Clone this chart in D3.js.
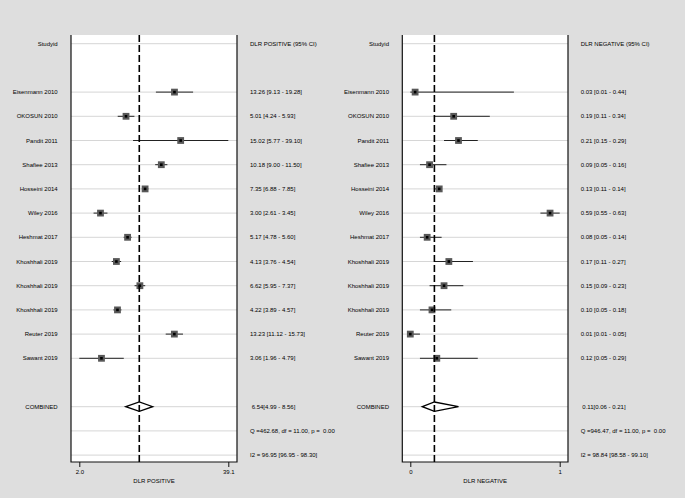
<!DOCTYPE html>
<html><head><meta charset="utf-8">
<script src="https://cdn.jsdelivr.net/npm/d3@7"></script>
<style>
html,body{margin:0;padding:0;background:#dedede;}
text{font-family:"Liberation Sans",Arial,sans-serif;font-size:6px;fill:#000;white-space:pre;}
</style></head><body>
<svg id="c" width="685" height="498"></svg>
<script>
const studies = ["Eisenmann 2010","OKOSUN 2010","Pandit 2011","Shafiee 2013","Hosseini 2014","Wiley 2016","Heshmat 2017","Khoshhali 2019","Khoshhali 2019","Khoshhali 2019","Reuter 2019","Sawant 2019"];
const posEst = [13.26,5.01,15.02,10.18,7.35,3.00,5.17,4.13,6.62,4.22,13.23,3.06];
const posLo  = [9.13,4.24,5.77,9.00,6.88,2.61,4.78,3.76,5.95,3.89,11.12,1.96];
const posHi  = [19.28,5.93,39.10,11.50,7.85,3.45,5.60,4.54,7.37,4.57,15.73,4.79];
const posCombined = [6.54,4.99,8.56];
const posQ = "Q =462.68, df = 11.00, p =  0.00";
const posI2 = "I2 = 96.95 [96.95 - 98.30]";
const posTicks = [1.96,39.10];
const posTickLabels = ["2.0","39.1"];

const negEst = [0.03,0.19,0.21,0.09,0.13,0.59,0.08,0.17,0.15,0.10,0.01,0.12];
const negLo  = [0.01,0.11,0.15,0.05,0.11,0.55,0.05,0.11,0.09,0.05,0.01,0.05];
const negHi  = [0.44,0.34,0.29,0.16,0.14,0.63,0.14,0.27,0.23,0.18,0.05,0.29];
const negCombined = [0.11,0.06,0.21];
const negQ = "Q =946.47, df = 11.00, p =  0.00";
const negI2 = "I2 = 98.84 [98.58 - 99.10]";
const negTicks = [0.01,0.63];
const negTickLabels = ["0","1"];

const svg = d3.select("#c");
const y = d3.scalePoint().domain(d3.range(18)).range([43.7,455.1]);
const boxTop = 35, boxBot = 462;

function panel(o){
  const g = svg.append("g");
  const x = o.log ? d3.scaleLog().domain(o.ticks).range(o.range)
                  : d3.scaleLinear().domain(o.ticks).range(o.range);
  g.append("rect").attr("x",o.box[0]).attr("y",boxTop).attr("width",o.box[1]-o.box[0]).attr("height",boxBot-boxTop).attr("fill","#fff");
  const gridRows = [0].concat(d3.range(2,14)).concat([15,16,17]);
  g.selectAll(".grid").data(gridRows).join("line")
    .attr("x1",o.box[0]).attr("x2",o.box[1]).attr("y1",d=>y(d)).attr("y2",d=>y(d))
    .attr("stroke","#d6d6d6").attr("stroke-width",1);
  g.append("path").attr("d",`M${o.box[0]},${boxTop}V${boxBot}H${o.box[1]}V${boxTop}`)
    .attr("fill","none").attr("stroke","#111").attr("stroke-width",1.2);
  const rows = studies.map((s,i)=>({s,i,e:o.est[i],lo:o.lo[i],hi:o.hi[i]}));
  g.selectAll(".ci").data(rows).join("line")
    .attr("x1",d=>x(d.lo)).attr("x2",d=>x(d.hi)).attr("y1",d=>y(d.i+2)).attr("y2",d=>y(d.i+2))
    .attr("stroke","#222").attr("stroke-width",1);
  g.selectAll(".sq").data(rows).join("rect")
    .attr("x",d=>x(d.e)-3.4).attr("y",d=>y(d.i+2)-3.4).attr("width",6.8).attr("height",6.8)
    .attr("fill","#585858");
  g.selectAll(".dot").data(rows).join("rect")
    .attr("x",d=>x(d.e)-1.3).attr("y",d=>y(d.i+2)-1.3).attr("width",2.6).attr("height",2.6)
    .attr("fill","#000");
  const c = o.comb, cy = y(15);
  g.append("path").attr("d",`M${x(c[1])},${cy}L${x(c[0])},${cy-4.7}L${x(c[2])},${cy}L${x(c[0])},${cy+4.7}Z`)
    .attr("fill","#fff").attr("stroke","#000").attr("stroke-width",1.3);
  g.append("line").attr("x1",x(c[0])).attr("x2",x(c[0])).attr("y1",boxTop).attr("y2",boxBot)
    .attr("stroke","#000").attr("stroke-width",1.6).attr("stroke-dasharray","7,3");
  const ax = g.append("g").attr("transform",`translate(0,${boxBot})`)
    .call(d3.axisBottom(x).tickValues(o.ticks).tickFormat((d,i)=>o.tickLabels[i]).tickSize(5).tickPadding(3));
  ax.select(".domain").remove();
  ax.selectAll("line").attr("stroke","#111");
  ax.selectAll("text").attr("font-size",6).attr("font-family","Liberation Sans, Arial").attr("fill","#000");
  g.append("text").attr("x",(o.box[0]+o.box[1])/2).attr("y",483).attr("text-anchor","middle").text(o.title);
  const labels = [{r:0,t:"Studyid"}].concat(studies.map((s,i)=>({r:i+2,t:s}))).concat([{r:15,t:"COMBINED"}]);
  g.selectAll(".lab").data(labels).join("text")
    .attr("x",o.labX).attr("y",d=>y(d.r)+2).attr("text-anchor","end").text(d=>d.t);
  const f = v=>v.toFixed(2);
  const rt = [{r:0,t:o.header}]
    .concat(rows.map(d=>({r:d.i+2,t:`${f(d.e)} [${f(d.lo)} - ${f(d.hi)}]`})))
    .concat([{r:15,t:` ${f(c[0])}[${f(c[1])} - ${f(c[2])}]`},{r:16,t:o.q},{r:17,t:o.i2}]);
  g.selectAll(".rt").data(rt).join("text")
    .attr("x",o.txtX).attr("y",d=>y(d.r)+2).text(d=>d.t);
}

panel({log:true,ticks:posTicks,tickLabels:posTickLabels,range:[79.3,228.3],box:[71,237],
  est:posEst,lo:posLo,hi:posHi,comb:posCombined,q:posQ,i2:posI2,labX:57.7,txtX:250,
  title:"DLR POSITIVE",header:"DLR POSITIVE (95% CI)"});
panel({log:false,ticks:negTicks,tickLabels:negTickLabels,range:[410.3,559.7],box:[402.3,568],
  est:negEst,lo:negLo,hi:negHi,comb:negCombined,q:negQ,i2:negI2,labX:389,txtX:580.7,
  title:"DLR NEGATIVE",header:"DLR NEGATIVE (95% CI)"});
</script>
</body></html>
